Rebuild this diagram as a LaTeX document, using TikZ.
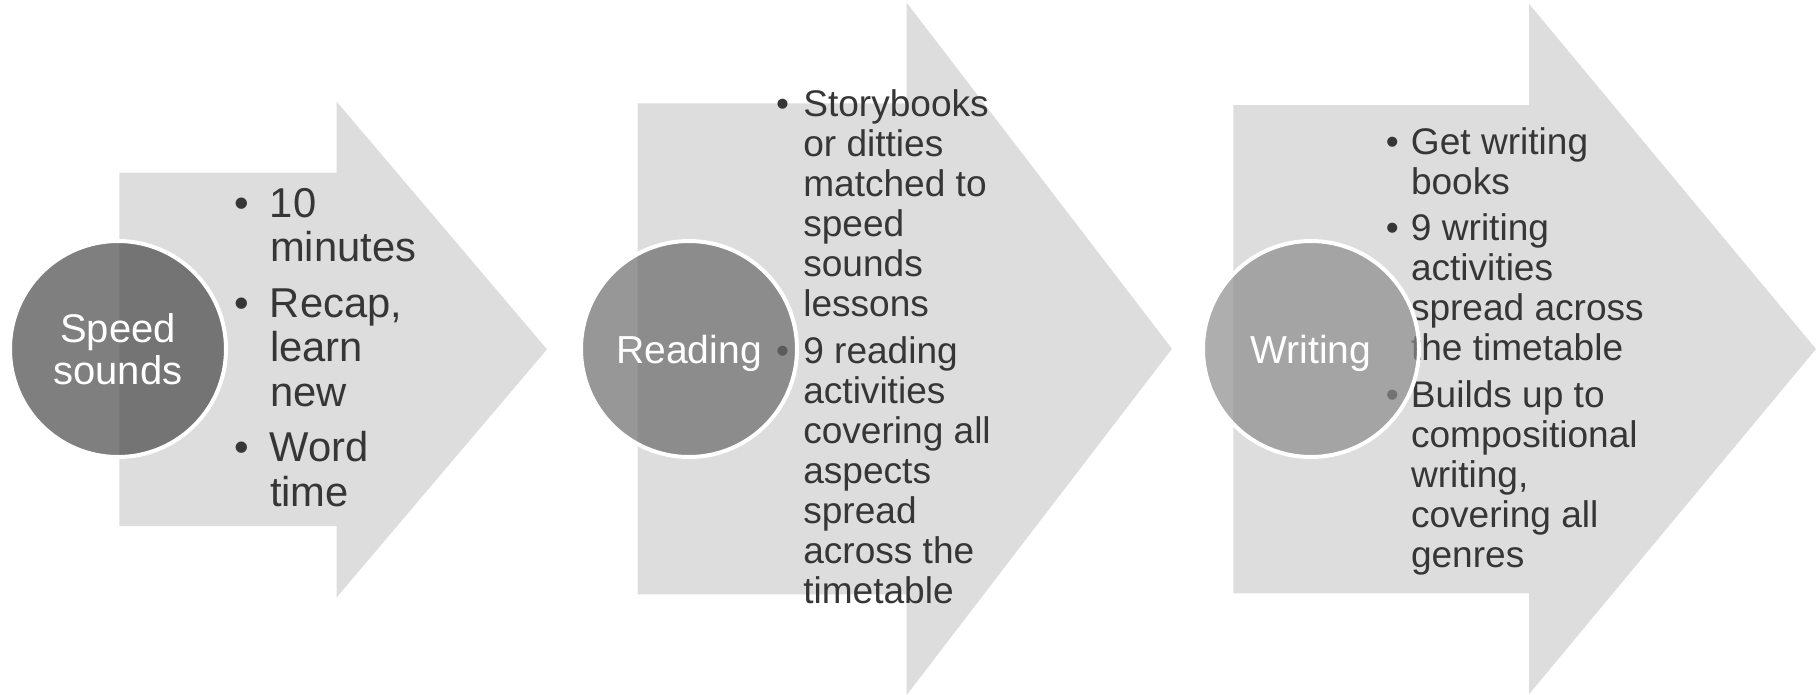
\documentclass[tikz,border=0pt]{standalone}
\usepackage{fontspec}
\setmainfont{Liberation Sans}
\definecolor{arrowgray}{HTML}{DDDDDD}
\definecolor{txtgray}{HTML}{363636}
\definecolor{circA}{HTML}{484848}
\definecolor{circB}{HTML}{6B6B6B}
\definecolor{circC}{HTML}{8C8C8C}
\newcommand{\bulitem}[1]{\llap{\makebox[#1][l]{\textbullet}}}
\tikzset{
  arrowshape/.style={fill=arrowgray, draw=none},
  stagecircle/.style={circle, minimum size=162pt, inner sep=0pt, draw=white,
    line width=3pt, fill opacity=0.7, text opacity=1, text=white, align=center},
  textblock/.style={anchor=base west, inner sep=0pt, outer sep=0pt, text=txtgray},
}
\begin{document}
\begin{tikzpicture}[x=0.75pt,y=-0.75pt]
\useasboundingbox (0,0) rectangle (1818,694);
% arrows
\path[arrowshape] (119.3,172.7) -- (336.7,172.7) -- (336.7,101.7) -- (547,349.3)
  -- (336.7,597.3) -- (336.7,526) -- (119.3,526) -- cycle;
\path[arrowshape] (637.7,103.3) -- (906.7,103.3) -- (906.7,2.7) -- (1172,348.8)
  -- (906.7,695) -- (906.7,594.3) -- (637.7,594.3) -- cycle;
\path[arrowshape] (1233.3,105) -- (1529.2,105) -- (1529.2,4) -- (1816,349)
  -- (1529.2,694) -- (1529.2,593.3) -- (1233.3,593.3) -- cycle;
% texts
\node[textblock, font=\fontsize{31.3pt}{33.4pt}\selectfont] (t1) at (270,217) {\vtop{%
  \hbox{\bulitem{26.5pt}10}\hbox{minutes}\kern8.25pt
  \hbox{\bulitem{26.5pt}Recap,}\hbox{learn}\hbox{new}\kern8.25pt
  \hbox{\bulitem{26.5pt}Word}\hbox{time}}};
\node[textblock, font=\fontsize{27.8pt}{30pt}\selectfont] (t2) at (803.3,116) {\vtop{%
  \hbox{\bulitem{20.3pt}Storybooks}\hbox{or ditties}\hbox{matched to}\hbox{speed}\hbox{sounds}\hbox{lessons}\kern5.6pt
  \hbox{\bulitem{20.3pt}9 reading}\hbox{activities}\hbox{covering all}\hbox{aspects}\hbox{spread}\hbox{across the}\hbox{timetable}}};
\node[textblock, font=\fontsize{27.8pt}{30pt}\selectfont] (t3) at (1411,154) {\vtop{%
  \hbox{\bulitem{18.9pt}Get writing}\hbox{books}\kern4.9pt
  \hbox{\bulitem{18.9pt}9 writing}\hbox{activities}\hbox{spread across}\hbox{the timetable}\kern4.9pt
  \hbox{\bulitem{18.9pt}Builds up to}\hbox{compositional}\hbox{writing,}\hbox{covering all}\hbox{genres}}};
% circles
\node[stagecircle, fill=circA, font=\fontsize{30pt}{31.7pt}\selectfont] (c1) at (118,349) {Speed\\sounds};
\node[stagecircle, fill=circB, font=\fontsize{29.3pt}{31pt}\selectfont,
  text height=27pt, text depth=6pt] (c2) at (689,349) {Reading};
\node[stagecircle, fill=circC, font=\fontsize{29.3pt}{31pt}\selectfont,
  text height=27pt, text depth=6pt] (c3) at (1311,349) {Writing};
\end{tikzpicture}
\end{document}
